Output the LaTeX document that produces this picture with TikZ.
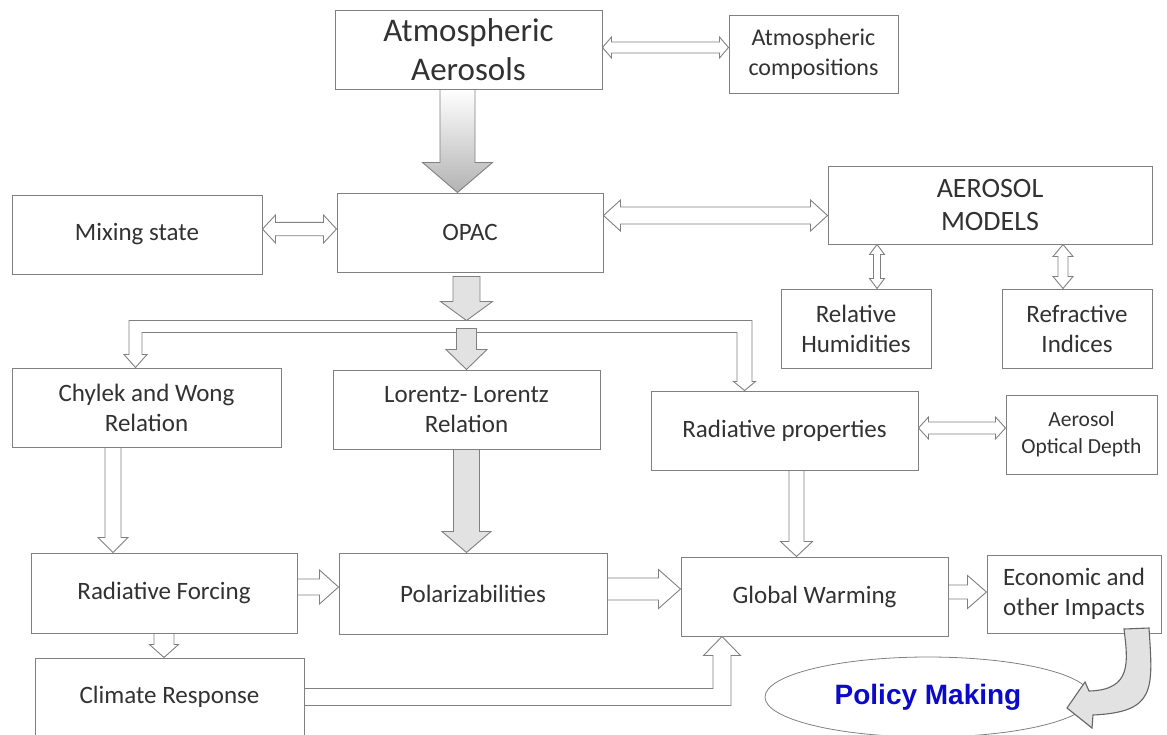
\documentclass[tikz,border=0pt]{standalone}
\usepackage{fontspec}
\setmainfont{Carlito}
\newfontfamily\arialfont{Liberation Sans}
\usetikzlibrary{calc,shapes.geometric}
\definecolor{boxgray}{RGB}{128,128,128}
\definecolor{txtgray}{RGB}{50,50,50}
\definecolor{arrowfill}{RGB}{226,226,226}
\definecolor{policyblue}{RGB}{10,10,200}
\begin{document}
\begin{tikzpicture}[x=1pt, y=-1pt,
  main/.style={draw=boxgray, line width=1pt, fill=white, text=txtgray, align=center, inner sep=0pt,
    font=\fontsize{25}{30}\selectfont, minimum width=267pt, minimum height=79pt},
  hollow/.style={draw=boxgray, line width=0.9pt, fill=white},
  grayblk/.style={draw=boxgray, line width=0.9pt, fill=arrowfill},
  vblk/.style n args={3}{to path={let \p1=(\tikztostart), \p2=(\tikztotarget), \n1={sign(\y1-\y2)} in
    (\x1-#1pt,\y1) -- (\x1-#1pt,\y2+\n1*#3pt) -- (\x1-#2pt,\y2+\n1*#3pt) -- (\x1,\y2)
    -- (\x1+#2pt,\y2+\n1*#3pt) -- (\x1+#1pt,\y2+\n1*#3pt) -- (\x1+#1pt,\y1) -- cycle}},
  hblk/.style n args={3}{to path={let \p1=(\tikztostart), \p2=(\tikztotarget), \n1={sign(\x2-\x1)} in
    (\x1,\y1+#1pt) -- (\x2-\n1*#3pt,\y1+#1pt) -- (\x2-\n1*#3pt,\y1+#2pt) -- (\x2,\y1)
    -- (\x2-\n1*#3pt,\y1-#2pt) -- (\x2-\n1*#3pt,\y1-#1pt) -- (\x1,\y1-#1pt) -- cycle}},
  hdbl/.style n args={3}{to path={let \p1=(\tikztostart), \p2=(\tikztotarget), \n1={sign(\x2-\x1)} in
    (\x1,\y1) -- (\x1+\n1*#3pt,\y1+#2pt) -- (\x1+\n1*#3pt,\y1+#1pt) -- (\x2-\n1*#3pt,\y1+#1pt)
    -- (\x2-\n1*#3pt,\y1+#2pt) -- (\x2,\y1) -- (\x2-\n1*#3pt,\y1-#2pt) -- (\x2-\n1*#3pt,\y1-#1pt)
    -- (\x1+\n1*#3pt,\y1-#1pt) -- (\x1+\n1*#3pt,\y1-#2pt) -- cycle}},
  vdbl/.style n args={3}{to path={let \p1=(\tikztostart), \p2=(\tikztotarget), \n1={sign(\y1-\y2)} in
    (\x1,\y1) -- (\x1+#2pt,\y1-\n1*#3pt) -- (\x1+#1pt,\y1-\n1*#3pt) -- (\x1+#1pt,\y2+\n1*#3pt)
    -- (\x1+#2pt,\y2+\n1*#3pt) -- (\x1,\y2) -- (\x1-#2pt,\y2+\n1*#3pt) -- (\x1-#1pt,\y2+\n1*#3pt)
    -- (\x1-#1pt,\y1-\n1*#3pt) -- (\x1-#2pt,\y1-\n1*#3pt) -- cycle}}]
\useasboundingbox (0,0) rectangle (1167,734);

% boxes
\node[main, font=\fontsize{33}{39}\selectfont] (aer) at (468.5,49.5) {Atmospheric\\Aerosols};
\node[main, minimum width=169pt, minimum height=78pt, font=\fontsize{24}{30}\selectfont] (comp) at (813.5,54) {Atmospheric\\compositions};
\node[main, minimum width=266pt] (opac) at (470,232.5) {OPAC};
\node[main, minimum width=250pt] (mix) at (137,234.5) {Mixing state};
\node[main, minimum width=324pt, minimum height=78pt, font=\fontsize{28}{33}\selectfont] (models) at (990,205) {AEROSOL\\MODELS};
\node[main, minimum width=150pt] (rh) at (856,328.5) {Relative\\Humidities};
\node[main, minimum width=150pt] (ri) at (1077,328.5) {Refractive\\Indices};
\node[main, minimum width=269pt] (chylek) at (146.5,407.5) {Chylek and Wong\\Relation};
\node[main] (lorentz) at (466.5,409.5) {Lorentz- Lorentz\\Relation};
\node[main] (radprop) at (784.5,430.5) {Radiative properties};
\node[main, minimum width=151pt, font=\fontsize{21.5}{27}\selectfont] (aod) at (1081.5,434.5) {Aerosol\\Optical Depth};
\node[main, minimum width=266pt, minimum height=80pt] (forcing) at (164,593) {Radiative Forcing};
\node[main, minimum width=268pt, minimum height=81pt] (polar) at (473,593.5) {Polarizabilities};
\node[main] (warming) at (814.5,596.5) {Global Warming};
\node[main, minimum width=174pt, minimum height=78pt] (econ) at (1074,594) {Economic and\\other Impacts};
\node[main, minimum width=269pt, minimum height=78pt] (climate) at (169.5,697) {Climate Response};
\node[ellipse, draw=boxgray, line width=0.8pt, minimum width=326pt, minimum height=80pt, inner sep=0pt,
  text=policyblue, font=\arialfont\bfseries\fontsize{28}{33}\selectfont] (policy) at (928,697) {Policy Making};

% arrows
\draw[draw=boxgray, line width=0.9pt, top color=white, bottom color=black!30]
  ([xshift=-11pt]aer.south) to[vblk={17.5}{35}{30}] ([xshift=-11pt]opac.north);
\draw[hollow] ([yshift=2pt]aer.east) to[hdbl={5.5}{10.5}{9}] (comp.west);
\draw[hollow] ([yshift=5.5pt]mix.east) to[hdbl={6.7}{14}{13}] (opac.west);
\draw[hollow] ([yshift=17pt]opac.east) to[hdbl={8.5}{15.5}{17}] (models.west);
\draw[hollow] ([xshift=21pt]rh.north) to[vdbl={3.5}{7.5}{10}] (models.south);
\draw[hollow] ([xshift=-14pt]ri.north) to[vdbl={5}{10}{12}] (models.south);

\coordinate (fork) at ([xshift=-3.5pt,yshift=-48pt]opac.south);
\draw[hollow] let \p1=([xshift=-11pt]chylek.north), \p2=([xshift=-40pt]radprop.north), \p3=(fork) in
  (\x1-6.5pt,\y1+13pt) -- (\x1-6.5pt,\y3) -- (\x2+7.5pt,\y3) -- (\x2+7.5pt,\y2+9pt) -- (\x2+11pt,\y2+9pt)
  -- (\p2) -- (\x2-11pt,\y2+9pt) -- (\x2-7.5pt,\y2+9pt) -- (\x2-7.5pt,\y3-12pt) -- (\x1+6.5pt,\y3-12pt)
  -- (\x1+6.5pt,\y1+13pt) -- (\x1+11.5pt,\y1+13pt) -- (\p1) -- (\x1-11.5pt,\y1+13pt) -- cycle;
\draw[grayblk] ([xshift=-3.5pt,yshift=-4pt]opac.south) to[vblk={13.5}{26}{19}] (fork);
\draw[grayblk] ([yshift=41pt]lorentz.north) to[vblk={10}{20.5}{20}] (lorentz.north);

\draw[hollow] ([xshift=-33.5pt]chylek.south) to[vblk={8}{15}{15}] (forcing.north);
\draw[grayblk] (lorentz.south) to[vblk={13}{24.5}{21}] (polar.north);
\draw[hollow] ([xshift=12pt]radprop.south) to[vblk={7.5}{16}{15}] (warming.north);
\draw[hollow] ([yshift=2.5pt]radprop.east) to[hdbl={6}{11}{10}] (aod.west);
\draw[hollow] ([yshift=6pt]forcing.east) to[hblk={8}{17}{19}] (polar.west);
\draw[hollow] ([yshift=4.5pt]polar.east) to[hblk={11}{19.5}{22}] (warming.west);
\draw[hollow] ([yshift=4.5pt]warming.east) to[hblk={7}{16.5}{19}] (econ.west);
\draw[hollow] (forcing.south) to[vblk={10}{14.5}{13}] (climate.north);

\draw[hollow] let \p1=(climate.east), \p2=([xshift=-92.5pt]warming.south) in
  (\x1,\y1+8.5pt) -- (\x2-9pt,\y1+8.5pt) -- (\x2-9pt,\y2-19pt) -- (\x2-18.5pt,\y2-19pt) -- (\p2)
  -- (\x2+18.5pt,\y2-19pt) -- (\x2+9pt,\y2-19pt) -- (\x2+9pt,\y1-8.5pt) -- (\x1,\y1-8.5pt) -- cycle;

\draw[grayblk, line width=1.1pt, draw=black!60] (1124,629) .. controls (1128,662) and (1132,690) .. (1089,691)
  -- (1085,682) -- (1067,708) -- (1092,728) -- (1093,715) .. controls (1156,712) and (1153,690) .. (1149,628) -- cycle;

\end{tikzpicture}
\end{document}
